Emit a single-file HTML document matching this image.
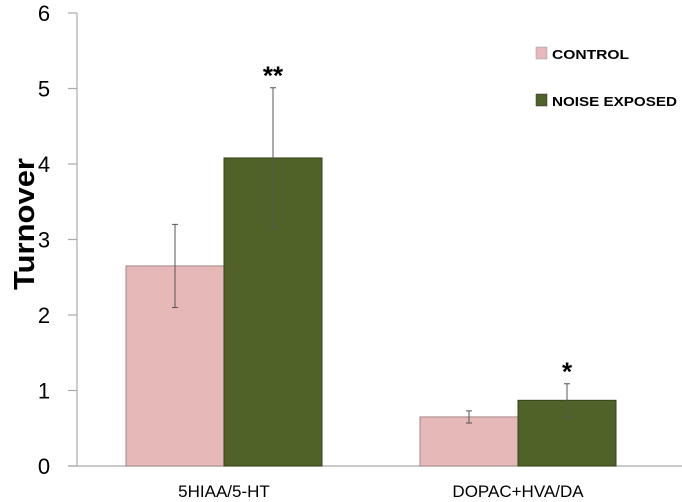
<!DOCTYPE html>
<html><head><meta charset="utf-8"><style>body{margin:0;background:#fff}svg{display:block}text{font-family:"Liberation Sans",sans-serif}</style></head>
<body>
<svg id="chart" width="682" height="502" viewBox="0 0 682 502" xmlns="http://www.w3.org/2000/svg">
<g id="axes"></g><g id="bars"></g>
<text transform="translate(34,224) rotate(-90)" text-anchor="middle" font-size="29" font-weight="bold" textLength="132" lengthAdjust="spacingAndGlyphs">Turnover</text>
<rect x="536" y="47" width="11" height="12" fill="#e6b8b7" stroke="#999" stroke-width="0.5"/>
<text x="552" y="59" font-size="13" font-weight="bold" textLength="77" lengthAdjust="spacingAndGlyphs">CONTROL</text>
<rect x="536" y="94" width="11" height="12" fill="#4f6228" stroke="#333" stroke-width="0.5"/>
<text x="552" y="106" font-size="13" font-weight="bold" textLength="125" lengthAdjust="spacingAndGlyphs">NOISE EXPOSED</text>
</svg>
<script>
const categories=["5HIAA/5-HT","DOPAC+HVA/DA"];
const controlVals=[2.65,0.65];
const noiseVals=[4.08,0.87];
const controlErr=[0.55,0.08];
const noiseErr=[0.93,0.22];
const sigMarks=["**","*"];
const yTicks=[0,1,2,3,4,5,6];
const NS="http://www.w3.org/2000/svg";
const y=v=>466-v*75.5;
const catCenter=i=>224+i*294;
const axes=document.getElementById('axes'),bars=document.getElementById('bars');
function mk(tag,attrs,parent){const e=document.createElementNS(NS,tag);for(const k in attrs)e.setAttribute(k,attrs[k]);parent.appendChild(e);return e;}
let ax=mk('line',{x1:77,y1:y(6),x2:77,y2:466,stroke:'#aaa','stroke-width':1.2},axes);


let bx=mk('line',{x1:68,y1:466,x2:682,y2:466,stroke:'#aaa','stroke-width':1.2},axes);


yTicks.forEach(t=>{
 let l=mk('line',{x1:68,y1:y(t),x2:77,y2:y(t),stroke:'#aaa','stroke-width':1.2},axes);
 
 
 let tx=mk('text',{x:44,y:y(t)+8,'text-anchor':'middle','font-size':22},axes);tx.textContent=t;
 
 
});
categories.forEach((c,i)=>{
 const cx=catCenter(i);
 [[controlVals[i],controlErr[i],cx-98,'#e6b8b7','#a08888','control'],[noiseVals[i],noiseErr[i],cx,'#4f6228','#35421a','noise']].forEach(([v,e,x,f,s,n])=>{
  let r=mk('rect',{x:x,y:y(v),width:98,height:466-y(v),fill:f,stroke:s,'stroke-width':1},bars);
  
  
  const m=x+49;
  let eb=mk('path',{d:`M${m},${y(v+e)}V${y(v-e)}M${m-3},${y(v+e)}H${m+3}M${m-3},${y(v-e)}H${m+3}`,stroke:'#555','stroke-width':1,fill:'none'},bars);
  
  
 });
 let st=mk('text',{x:cx+49,y:y(noiseVals[i]+noiseErr[i])-3,'text-anchor':'middle','font-size':26,'font-weight':'bold'},bars);st.textContent=sigMarks[i];
 
 
 let cl=mk('text',{x:cx,y:497,'text-anchor':'middle','font-size':17},axes);cl.textContent=c;
 
 
});
</script>
</body></html>
